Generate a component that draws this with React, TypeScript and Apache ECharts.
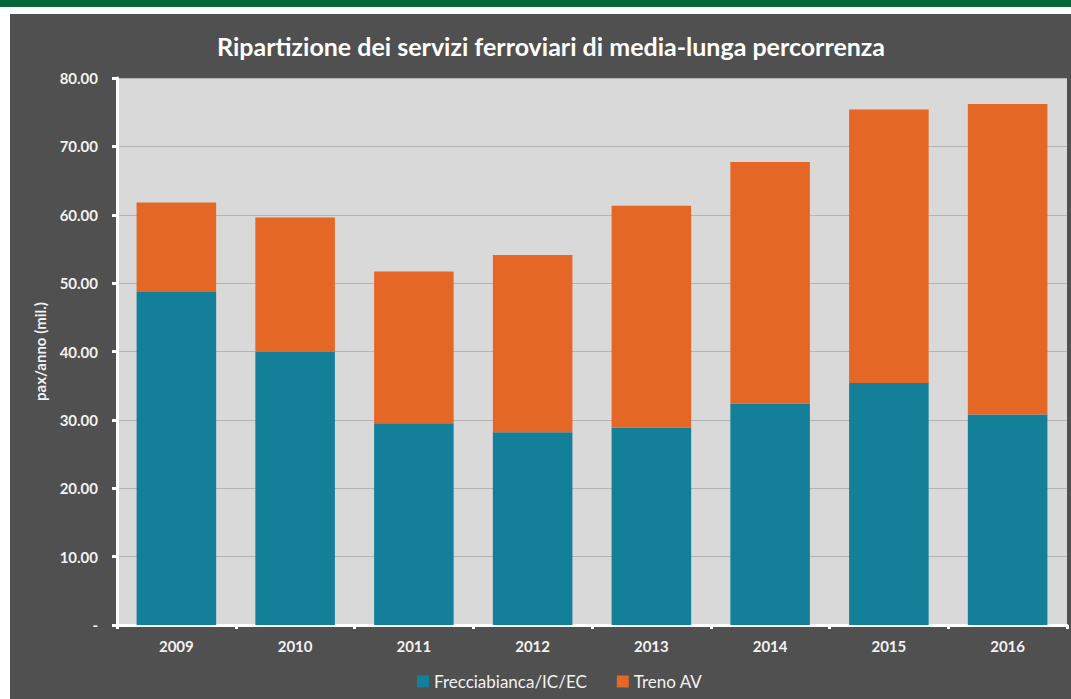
import React, { useEffect, useRef } from "react";
import * as echarts from "echarts";

const categories = ["2009", "2010", "2011", "2012", "2013", "2014", "2015", "2016"];
const frecciabianca = [48.7, 40.0, 29.5, 28.2, 28.9, 32.4, 35.4, 30.8];
const trenoAV = [13.1, 19.6, 22.2, 25.9, 32.4, 35.3, 40.0, 45.4];
const seriesNames = ["Frecciabianca/IC/EC", "Treno AV"];
const titleText = "Ripartizione dei servizi ferroviari di media-lunga percorrenza";
const yAxisTitle = "pax/anno (mil.)";

const FONT = "Lato, 'Open Sans', sans-serif";

export default function App() {
  const ref = useRef<HTMLDivElement>(null);
  useEffect(() => {
    if (!ref.current) return;
    const chart = echarts.init(ref.current, undefined, { renderer: "svg" });
    chart.setOption({
      animation: false,
      backgroundColor: "#ffffff",
      textStyle: { fontFamily: FONT },
      graphic: [
        { type: "rect", left: 0, top: 0, shape: { width: 1071, height: 7 }, style: { fill: "#06673a" }, z: -10 },
        { type: "rect", left: 10, top: 14, shape: { width: 1061, height: 685 }, style: { fill: "#505050" }, z: -10 },
      ],
      title: {
        text: titleText,
        left: 546,
        textAlign: "center",
        top: 28,
        textStyle: { color: "#ffffff", fontSize: 25, fontWeight: "bold", fontFamily: FONT },
      },
      legend: {
        data: seriesNames,
        left: 412,
        top: 668,
        icon: "rect",
        itemWidth: 12,
        itemHeight: 12,
        itemGap: 30,
        textStyle: { color: "#f2f2f2", fontSize: 17, fontFamily: FONT },
      },
      grid: {
        left: 117,
        top: 78,
        right: 4,
        bottom: 74,
        show: true,
        backgroundColor: "#d9d9d9",
        borderWidth: 0,
      },
      xAxis: {
        type: "category",
        data: categories,
        axisLine: { lineStyle: { color: "#ffffff", width: 3 } },
        axisTick: { show: true, length: 4, lineStyle: { color: "#ffffff", width: 3 } },
        axisLabel: { color: "#f2f2f2", fontSize: 15, fontWeight: "bold", margin: 13, fontFamily: FONT },
      },
      yAxis: {
        type: "value",
        min: 0,
        max: 80,
        interval: 10,
        name: yAxisTitle,
        nameLocation: "middle",
        nameRotate: 90,
        nameGap: 70,
        nameTextStyle: { color: "#f2f2f2", fontSize: 15, fontWeight: "bold", fontFamily: FONT },
        axisLine: { show: true, lineStyle: { color: "#ffffff", width: 3 } },
        axisTick: { show: true, length: 5, lineStyle: { color: "#ffffff", width: 3 } },
        axisLabel: {
          color: "#f2f2f2",
          fontSize: 15,
          fontWeight: "bold",
          margin: 19,
          fontFamily: FONT,
          formatter: (v: number) => (v === 0 ? "-" : v.toFixed(2)),
        },
        splitLine: { lineStyle: { color: "#b4b4b4", width: 1 } },
      },
      series: [
        {
          name: seriesNames[0],
          type: "bar",
          stack: "total",
          data: frecciabianca,
          barWidth: "67%",
          itemStyle: { color: "#137f99" },
        },
        {
          name: seriesNames[1],
          type: "bar",
          stack: "total",
          data: trenoAV,
          barWidth: "67%",
          itemStyle: { color: "#e46726" },
        },
      ],
    });
    return () => chart.dispose();
  }, []);
  return (
    <div
      ref={ref}
      style={{ position: "absolute", left: 0, top: 0, width: 1071, height: 699 }}
    />
  );
}
